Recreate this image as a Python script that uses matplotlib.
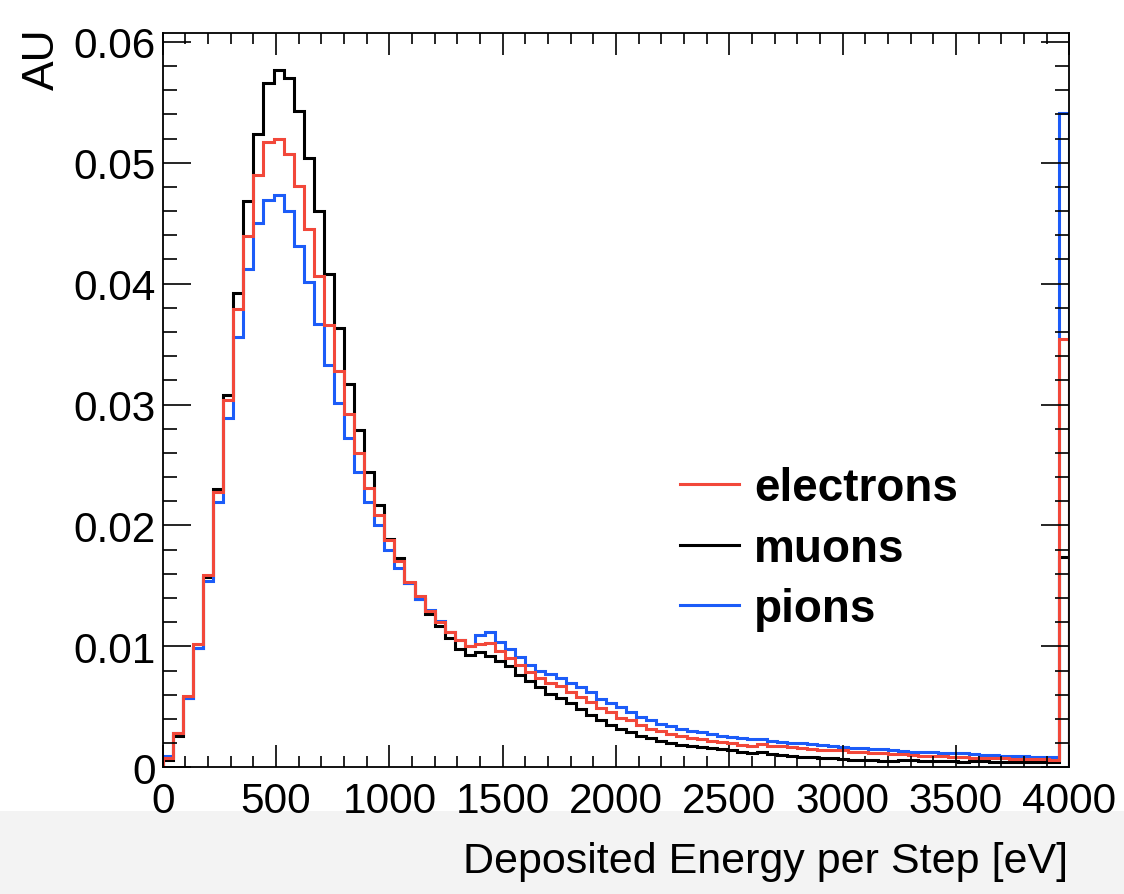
import numpy as np
import matplotlib.pyplot as plt
from matplotlib.patches import Rectangle
from matplotlib.ticker import MultipleLocator

plt.rcParams['font.family'] = ['Liberation Sans', 'DejaVu Sans']

# 90 bins from 0 to 4000 eV, last bin collects everything above
bin_lo = 0
bin_hi = 4000
n_bins = 90

muons = [
    0.0006, 0.0026, 0.0057, 0.0099, 0.0157, 0.0230, 0.0308, 0.0392, 0.0468, 0.0524,
    0.0566, 0.0577, 0.0570, 0.0543, 0.0504, 0.0460, 0.0408, 0.0363, 0.0317, 0.0279,
    0.0244, 0.0217, 0.0189, 0.0173, 0.0152, 0.0139, 0.0127, 0.0117, 0.0107, 0.0098,
    0.0093, 0.0095, 0.0092, 0.0088, 0.0084, 0.0076, 0.0071, 0.0066, 0.0061, 0.0057,
    0.0053, 0.0048, 0.0043, 0.0039, 0.0035, 0.0032, 0.00295, 0.0026, 0.0024, 0.0022,
    0.0020, 0.00185, 0.00174, 0.00165, 0.00157, 0.0015, 0.0014, 0.00124, 0.00118, 0.00125,
    0.0011, 0.0010, 0.00095, 0.00088, 0.00085, 0.0008, 0.00074, 0.0007, 0.00063, 0.0006,
    0.00058, 0.00055, 0.00055, 0.0006, 0.00058, 0.00055, 0.00052, 0.0005, 0.00048, 0.00042,
    0.0005, 0.0005, 0.00046, 0.00045, 0.00044, 0.00043, 0.00042, 0.00041, 0.0004, 0.0174,
]

pions = [
    0.0009, 0.0028, 0.0057, 0.0099, 0.0154, 0.0219, 0.0289, 0.0356, 0.0412, 0.0450,
    0.0469, 0.0473, 0.0460, 0.0431, 0.0401, 0.0367, 0.0333, 0.0301, 0.0272, 0.0244,
    0.0219, 0.0200, 0.0180, 0.0165, 0.0152, 0.0139, 0.0130, 0.0121, 0.0112, 0.01055,
    0.0100, 0.0109, 0.0112, 0.0104, 0.0098, 0.0091, 0.0085, 0.0080, 0.0077, 0.0074,
    0.0070, 0.0066, 0.0062, 0.00565, 0.0053, 0.0050, 0.00455, 0.0042, 0.0039, 0.0036,
    0.0034, 0.0032, 0.0030, 0.0029, 0.00275, 0.0026, 0.0025, 0.0024, 0.0023, 0.0023,
    0.0022, 0.0021, 0.0020, 0.0020, 0.0019, 0.00185, 0.00175, 0.0017, 0.0016, 0.0016,
    0.00152, 0.0015, 0.0014, 0.00138, 0.0013, 0.0013, 0.00128, 0.0012, 0.00116, 0.00115,
    0.00106, 0.00105, 0.00104, 0.00097, 0.00096, 0.00095, 0.00089, 0.00088, 0.00088, 0.0541,
]

electrons = [
    0.0008, 0.0028, 0.0059, 0.0102, 0.0159, 0.0228, 0.0304, 0.0379, 0.0439, 0.0490,
    0.0517, 0.0520, 0.0507, 0.0481, 0.0445, 0.0406, 0.0366, 0.0328, 0.0292, 0.0260,
    0.0231, 0.0209, 0.0188, 0.0171, 0.0153, 0.0142, 0.0129, 0.0120, 0.0112, 0.0105,
    0.0100, 0.0102, 0.0103, 0.0096, 0.0090, 0.0085, 0.0079, 0.0074, 0.0070, 0.0067,
    0.0062, 0.0058, 0.0054, 0.0049, 0.00455, 0.0041, 0.0039, 0.0035, 0.0032, 0.0030,
    0.00275, 0.00256, 0.0024, 0.0023, 0.0022, 0.0021, 0.0020, 0.00188, 0.0018, 0.0019,
    0.0018, 0.00175, 0.00165, 0.0016, 0.0015, 0.00146, 0.00144, 0.0014, 0.0013, 0.00128,
    0.0012, 0.00117, 0.0011, 0.00108, 0.0010, 0.00097, 0.00096, 0.00094, 0.00085, 0.00083,
    0.00078, 0.00077, 0.00077, 0.00076, 0.0007, 0.00069, 0.00068, 0.00066, 0.0006, 0.03545,
]

edges = np.linspace(bin_lo, bin_hi, n_bins + 1)

red = '#f2483a'
blue = '#1c5cf8'

fig = plt.figure(figsize=(11.24, 8.95), dpi=100)
fig.patch.set_facecolor('white')
# light grey strip under the canvas, like the screenshot
fig.add_artist(Rectangle((0, 0), 1, 83 / 895, transform=fig.transFigure,
                         facecolor='#f3f3f3', edgecolor='none', zorder=0))

ax = fig.add_axes([162.7 / 1124, (895 - 768.3) / 895, 906.6 / 1124, 734 / 895])

ax.stairs(muons, edges, color='black', lw=2.2, label='muons')
ax.stairs(pions, edges, color=blue, lw=2.2, label='pions')
ax.stairs(electrons, edges, color=red, lw=2.2, label='electrons')

ax.set_xlim(0, 4000)
ax.set_ylim(0, 0.0607)

ax.xaxis.set_major_locator(MultipleLocator(500))
ax.xaxis.set_minor_locator(MultipleLocator(100))
ax.yaxis.set_minor_locator(MultipleLocator(0.002))
ax.set_yticks([0, 0.01, 0.02, 0.03, 0.04, 0.05, 0.06])
ax.set_yticklabels(['0', '0.01', '0.02', '0.03', '0.04', '0.05', '0.06'])

ax.tick_params(which='both', direction='in', top=True, right=True, width=1.2,
               colors='black', labelsize=30.5)
ax.tick_params(axis='x', which='major', length=16, pad=10)
ax.tick_params(axis='x', which='minor', length=8)
ax.tick_params(axis='y', which='major', length=20, pad=5)
ax.tick_params(axis='y', which='minor', length=10)
for s in ax.spines.values():
    s.set_linewidth(1.3)

h, l = ax.get_legend_handles_labels()
order = [2, 0, 1]
ax.legend([h[i] for i in order], [l[i] for i in order], frameon=False,
          prop={'weight': 'bold', 'size': 33}, loc='upper left',
          bbox_to_anchor=(0.55, 0.435), handlelength=1.3, handletextpad=0.33,
          labelspacing=0.36, borderaxespad=0)

fig.text(1068 / 1124, 1 - 862 / 895, 'Deposited Energy per Step [eV]',
         ha='right', va='center', fontsize=31)
fig.text(42 / 1124, 1 - 28 / 895, 'AU', rotation=90, ha='center', va='top',
         fontsize=32)

fig.savefig('out.png', dpi=100)
